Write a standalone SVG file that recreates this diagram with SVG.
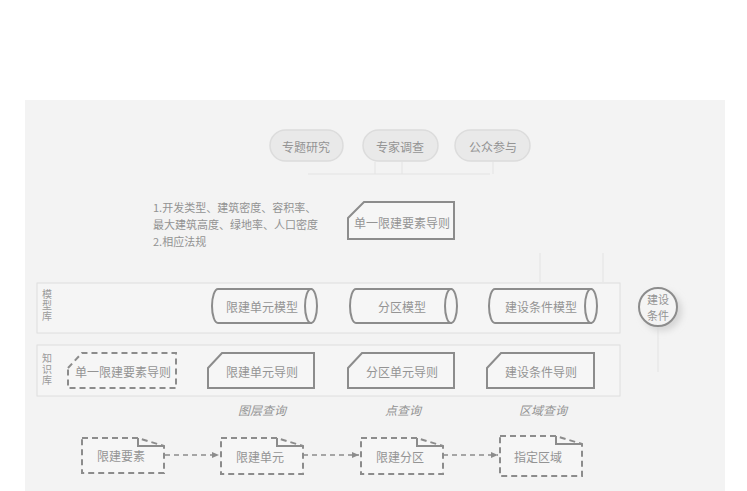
<svg xmlns="http://www.w3.org/2000/svg" width="747" height="491" viewBox="0 0 747 491">
<defs>
<style>
text{font-family:"Noto Sans CJK SC","Liberation Sans",sans-serif;fill:#949494;font-size:12px;text-anchor:middle;dominant-baseline:central}
.pill{fill:#e9e9e9;stroke:#dcdcdc;stroke-width:1.5}
.shp{fill:#f6f6f6;stroke:#8c8c8c;stroke-width:2}
.dsh{fill:#f6f6f6;stroke:#8c8c8c;stroke-width:2;stroke-dasharray:6,4}
.lane{fill:#f5f5f5;stroke:#dedede;stroke-width:1}
.faint{fill:none;stroke:#e3e3e3;stroke-width:1}
.arr{fill:none;stroke:#8c8c8c;stroke-width:1.5;stroke-dasharray:5,4}
.it{font-style:italic;font-size:12px}
.lbl{font-size:11px;text-anchor:start;fill:#929292}
.ln{font-size:10px;fill:#9a9a9a;writing-mode:tb;letter-spacing:1px;dominant-baseline:auto}
.cc{font-size:11px}
</style>
<marker id="ah" markerWidth="8" markerHeight="8" refX="7" refY="4" orient="auto" markerUnits="userSpaceOnUse">
<path d="M0,1 L7,4 L0,7 Z" fill="#8c8c8c"/>
</marker>
<filter id="sh" x="-50%" y="-50%" width="200%" height="200%"><feGaussianBlur stdDeviation="3"/></filter>
</defs>
<rect x="0" y="0" width="747" height="491" fill="#ffffff"/>
<rect x="25" y="100" width="700" height="391" fill="#f3f3f3"/>

<g id="connectors">
<path class="faint" d="M375,162 V174 M402,162 V174 M493,162 V174 M308,174 H490"/>
<path class="faint" d="M540,253 V282 M603,253 V282"/>
<path class="faint" d="M658,327 V372"/>
<path class="arr" d="M165,455 H219" marker-end="url(#ah)"/>
<path class="arr" d="M303,455 H359" marker-end="url(#ah)"/>
<path class="arr" d="M443,455 H498" marker-end="url(#ah)"/>
</g>

<g id="pill1"><rect class="pill" x="270" y="130" width="73" height="31" rx="15.5"/><text x="306" y="146">专题研究</text></g>
<g id="pill2"><rect class="pill" x="363" y="130" width="75" height="31" rx="15.5"/><text x="400" y="146">专家调查</text></g>
<g id="pill3"><rect class="pill" x="455" y="130" width="75" height="31" rx="15.5"/><text x="493" y="146">公众参与</text></g>

<g id="notes">
<text class="lbl" x="153" y="207">1.开发类型、建筑密度、容积率、</text>
<text class="lbl" x="153" y="224">最大建筑高度、绿地率、人口密度</text>
<text class="lbl" x="153" y="241">2.相应法规</text>
</g>

<g id="guide-top"><path class="shp" d="M348,218 L364,202 H454 V239 H348 Z"/><text x="402" y="222">单一限建要素导则</text></g>

<g id="lane-model"><rect class="lane" x="37" y="283" width="583" height="50"/>
<text class="ln" x="47" y="306">模型库</text></g>
<g id="lane-knowledge"><rect class="lane" x="37" y="345" width="583" height="51"/>
<text class="ln" x="47" y="370">知识库</text></g>

<g id="cyl1"><path class="shp" d="M218,289 H311 V323 H218 A6,17 0 0 1 218,289 Z"/><ellipse class="shp" cx="311" cy="306" rx="6" ry="17"/><text x="262" y="306">限建单元模型</text></g>
<g id="cyl2"><path class="shp" d="M356,289 H451 V323 H356 A6,17 0 0 1 356,289 Z"/><ellipse class="shp" cx="451" cy="306" rx="6" ry="17"/><text x="402" y="306">分区模型</text></g>
<g id="cyl3"><path class="shp" d="M495,289 H591 V323 H495 A6,17 0 0 1 495,289 Z"/><ellipse class="shp" cx="591" cy="306" rx="6" ry="17"/><text x="541" y="306">建设条件模型</text></g>

<g id="cond"><circle cx="662" cy="311" r="20" fill="#d6d6d6" filter="url(#sh)"/><circle cx="658" cy="307" r="19" fill="#f4f4f4" stroke="#8c8c8c" stroke-width="2"/><text class="cc" x="658" y="299">建设</text><text class="cc" x="658" y="315">条件</text></g>

<g id="guide0"><path class="dsh" d="M68,368 L82,353 H176 V388 H68 Z"/><text x="123" y="371">单一限建要素导则</text></g>
<g id="guide1"><path class="shp" d="M208,368 L222,353 H314 V388 H208 Z"/><text x="262" y="371">限建单元导则</text></g>
<g id="guide2"><path class="shp" d="M348,368 L362,353 H454 V388 H348 Z"/><text x="402" y="371">分区单元导则</text></g>
<g id="guide3"><path class="shp" d="M487,368 L501,353 H594 V388 H487 Z"/><text x="541" y="371">建设条件导则</text></g>

<text class="it" x="262" y="409">图层查询</text>
<text class="it" x="403" y="409">点查询</text>
<text class="it" x="543" y="409">区域查询</text>

<g id="doc1"><path class="dsh" d="M82,438 H138 L164,446 V473 H82 Z"/><path class="shp" style="fill:none" d="M138,438 V446 H164"/><text x="121" y="455">限建要素</text></g>
<g id="doc2"><path class="dsh" d="M221,438 H277 L303,446 V474 H221 Z"/><path class="shp" style="fill:none" d="M277,438 V446 H303"/><text x="260" y="456">限建单元</text></g>
<g id="doc3"><path class="dsh" d="M361,438 H417 L443,446 V474 H361 Z"/><path class="shp" style="fill:none" d="M417,438 V446 H443"/><text x="400" y="456">限建分区</text></g>
<g id="doc4"><path class="dsh" d="M500,436 H556 L582,444 V476 H500 Z"/><path class="shp" style="fill:none" d="M556,436 V444 H582"/><text x="538" y="456">指定区域</text></g>
</svg>
